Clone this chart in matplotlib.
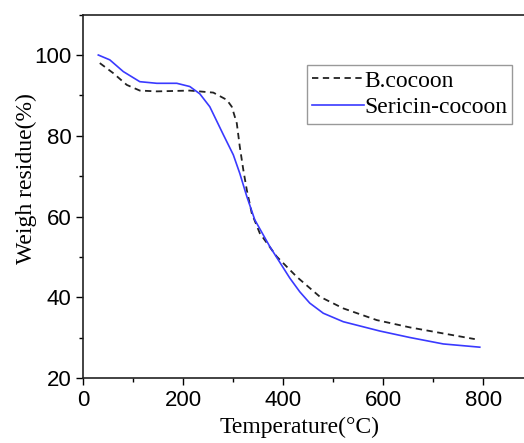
import matplotlib
matplotlib.use("Agg")
import matplotlib.pyplot as plt
from matplotlib.ticker import MultipleLocator

##############################################################################
#                                    Data                                    #
##############################################################################
# B.cocoon (dashed)
b_temp = [33, 60, 87, 113, 147, 213, 260, 287, 297, 307, 313, 320, 327, 337,
          353, 387, 427, 473, 520, 587, 653, 720, 783]
b_weight = [98.0, 95.5, 92.6, 91.2, 91.0, 91.2, 90.7, 88.9, 87.2, 83.1, 77.3,
            71.6, 66.6, 60.8, 55.9, 50.1, 45.1, 40.2, 37.3, 34.4, 32.6, 31.1,
            29.7]

# Sericin-cocoon (solid blue)
s_temp = [30, 53, 80, 113, 147, 187, 213, 233, 253, 280, 300, 313, 327, 343,
          373, 413, 433, 453, 480, 520, 593, 653, 720, 793]
s_weight = [100.0, 98.8, 95.9, 93.4, 93.0, 93.0, 92.2, 90.4, 87.2, 80.3, 75.3,
            70.7, 65.0, 59.2, 52.6, 44.8, 41.4, 38.6, 36.1, 34.0, 31.7, 30.1,
            28.5, 27.7]

x_ticks = [0, 200, 400, 600, 800]
y_ticks = [20, 40, 60, 80, 100]

SERIF = ["Liberation Serif", "DejaVu Serif"]
SANS = ["Liberation Sans", "DejaVu Sans"]


def main():
    fig = plt.figure(figsize=(5.24, 4.43), dpi=100)
    # axes runs past the right edge, like the cropped original
    ax = fig.add_axes([83.3 / 524, 64.7 / 443, 450 / 524, 363.7 / 443])

    ax.plot(b_temp, b_weight, "--", color="#222222", lw=1.3,
            dashes=(3.5, 2.5), label="B.cocoon")
    ax.plot(s_temp, s_weight, "-", color="#3a3aff", lw=1.2,
            label="Sericin-cocoon")

    ax.set_xlim(0, 900)
    ax.set_ylim(20, 110)
    ax.set_xticks(x_ticks)
    ax.set_yticks(y_ticks)
    ax.xaxis.set_minor_locator(MultipleLocator(100))
    ax.yaxis.set_minor_locator(MultipleLocator(10))
    ax.tick_params(which="major", direction="out", length=5, width=1,
                   labelsize=16)
    ax.tick_params(which="minor", direction="out", length=3, width=1)
    for lab in ax.get_xticklabels() + ax.get_yticklabels():
        lab.set_family(SANS)
    for sp in ax.spines.values():
        sp.set_linewidth(1.2)
        sp.set_color("#222222")

    ax.set_xlabel("Temperature(\u00b0C)", family=SERIF, fontsize=17)
    ax.set_ylabel("Weigh residue(%)", family=SERIF, fontsize=17)
    ax.xaxis.set_label_coords(0.48, -0.105)
    ax.yaxis.set_label_coords(-0.103, 0.55)

    leg = ax.legend(loc="upper left", bbox_to_anchor=(307 / 524, 1 - 65 / 443),
                    bbox_transform=fig.transFigure, fancybox=False,
                    prop={"family": SERIF, "size": 17}, handlelength=2.2,
                    handletextpad=0.0, borderpad=0.22, labelspacing=0.22,
                    borderaxespad=0, framealpha=1)
    leg.get_frame().set_edgecolor("#999999")
    leg.get_frame().set_linewidth(1.0)

    fig.savefig("out.png", dpi=100)


if __name__ == "__main__":
    main()
